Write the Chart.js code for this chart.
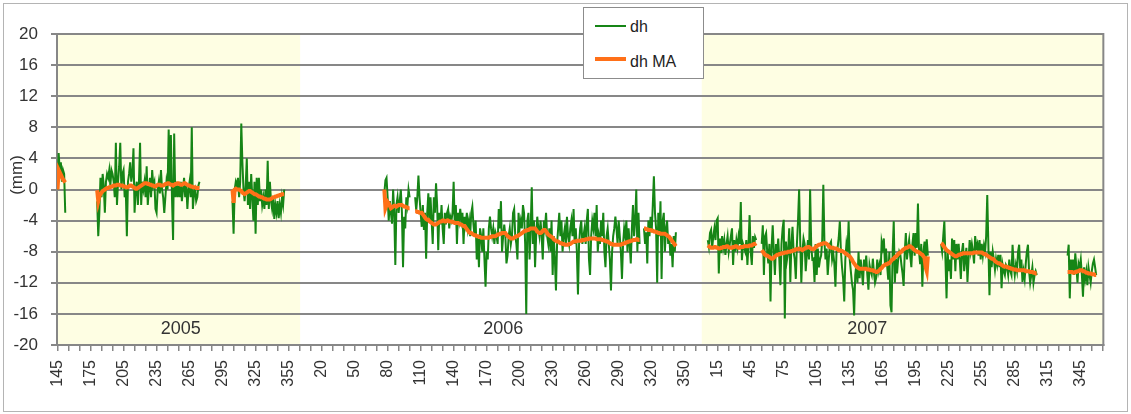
<!DOCTYPE html>
<html>
<head>
<meta charset="utf-8">
<script src="https://cdn.jsdelivr.net/npm/chart.js@4.4.0/dist/chart.umd.min.js"></script>
<style>
  body { margin: 0; background: #fff; }
  #wrap { position: relative; width: 1131px; height: 414px; }
  #frame { position: absolute; left: 3px; top: 3px; width: 1123px; height: 407px; border: 1px solid #b4b4b4; pointer-events: none; }
  #legend { position: absolute; left: 583px; top: 7px; width: 119px; height: 70px; border: 1px solid #8c8c8c; background: #fff;
            font: 16px "Liberation Sans", Arial, sans-serif; color: #222; }
  .key { position: absolute; left: 11px; width: 31px; }
  .lbl { position: absolute; left: 46px; line-height: 18px; }
</style>
</head>
<body>
<div id="wrap">
  <canvas id="chart" width="1131" height="414"></canvas>
  <div id="frame"></div>
  <div id="legend">
    <div class="key" style="top:17px;height:2px;background:#168516"></div>
    <div class="lbl" style="top:10px">dh</div>
    <div class="key" style="top:49px;height:4px;background:#ff7018"></div>
    <div class="lbl" style="top:45px">dh MA</div>
  </div>
</div>
<script>
// axis runs day by day from 2005 day 145 to the end of 2007
const firstYear = 2005;
const firstDay = 145;
const lastYear = 2007;
const yearLabels = ['2005', '2006', '2007'];
const yearLabelDay = [257, 185, 151];
const shadedYears = [2005, 2007];

// each data run: year and day of year of its first value
const segYear = [2005, 2005, 2005, 2006, 2006, 2006, 2007, 2007, 2007, 2007];
const segFirstDay = [145, 181, 304, 77, 105, 313, 6, 55, 218, 333];

const dh05a = [0, 4.7, 2.5, 3.5, 1, 2.5, 2, -3];
const dh05b = [
  -1.5, -6, -3, 1.5, -1, 2, 0.5, -3, 1, 2,
  1.5, 2.5, 0.5, 2.5, 2, 1, -1, 6, -2, 1,
  3, 6, 0, 2, 2.5, -1, 0, -6, 1, 2,
  3.5, 1, 2, 5.3, -3, 0, 1, -2, 1, 6,
  -2, 1, 0, 1, -1, 3, -2, 0, 1.5, -1,
  2.5, 0.5, 1, -2.5, -3, 0, 1, -0.5, 2.5, 0,
  -1, -3, -1, 1, 0, 7.7, 0.5, 7, -1, -6.5,
  7.2, -1, 1, -1, 0.5, -1, 1, -1.5, 0, 1.5,
  -1, 0.5, -2.5, 0, 1, -1, 8, -2.5, -0.5, 0,
  -1.5, -1, 0.5, 1
];
const dh05c = [
  -1.5, -5.7, 0, 1, 0.5, 1.5, -1, 1, 8.5, 3.5,
  0, -1.5, 0.5, 4, -2, 1, -2.5, 2, -1, -4,
  1, -5.7, 1.5, -2, 1.5, -1.5, 0, -2, -1, -2.5,
  0, -2, 3.7, -2.5, 1, -1.5, -2.5, -1, -3.8, -2,
  -3, -1.5, -3.7, -2, -3, -1, -2, 0
];
const dh06a = [-0.5, 1.2, 1.5, -1, -4, -1.5, -3, -4.4, 0, -3, -9.7, -2, -1, -3, -1.5, 0, -3, -10, -3.5, -5, -1, -2, 0, -1];
const dh06b = [
  -1, -2.7, -1, 1.8, -1, -3, -4.8, -2, -5.2, -3,
  -8.9, -3, -0.5, -4, -1, -4, -7, -1, -3, 0.8,
  -2, -7.8, -3, -4.5, -2, -5, -7, -3, -4.5, -3,
  -2.5, -5, -3.5, -4, -3, 1, -4.5, -2, -7, -3,
  -4, -2.5, -4, -3, -7, -3.5, -4.5, -3, -5, -4,
  -6, -3, -2.2, -4.5, -6, -4, -9, -6, -10, -5,
  -6, -8, -5, -9, -12.5, -8, -9, -5, -3.5, -5,
  -6, -5, -7, -5.5, -6, -7, -2.5, -5, -1.5, -8,
  -6, -4.5, -6, -9.5, -8.5, -6, -5, -7, -6, -3,
  -2.5, -6, -7, -9, -3, -5, -4, -5, -2, -3,
  -7, -16, -4, -3, -9, -5, 0.3, -7, -4, -10,
  -6, -3.5, -5, -6, -4, -6, -9, -4, -5, -3,
  -6, -7, -5, -8, -4, -11, -6, -9, -13, -7,
  -5, -3, -6, -4, -8, -6, -5, -7, -3.5, -6,
  -7, -5, -4, -6, -2.5, -7, -5, -8, -13.5, -7,
  -5, -4, -7, -6, -5, -7, -4, -2.5, -9, -11,
  -6, -4, -5, -3, -6, -2, -8, -6, -7, -4,
  -6, -3, -8, -10, -6, -5, -7, -9, -13, -8,
  -6, -5, -3.5, -5, -7, -4, -6, -8, -11.5, -7,
  -5, -6, -4, -8, -5, -7, -9.5, -5, -2, -6,
  -4, 0, -8, -3, -7
];
const dh06c = [-5, -7, -5.5, -9.5, -4, -6, -3.5, -5.5, -2, 1.7, -3, -5, -12, -3, -6, -1.5, -11.5, -4, -3, -8, -5, -4, -7, -6, -8.5, -7, -10, -6, -8, -5.5];
const dh07a = [
  -6.5, -7.4, -5.6, -5.2, -7.5, -6, -5, -6.5, -4, -3.7,
  -10.8, -6.3, -8.2, -6, -7.5, -6.5, -8.4, -7, -6, -8,
  -7, -6, -5, -9.7, -6.5, -8, -6.5, -7.5, -6, -7,
  -1.6, -9.1, -7, -7.5, -8, -6.5, -9.7, -7, -3.3, -8,
  -9.7, -6, -7.5, -6.1, -6.5
];
const dh07b = [
  -7, -4.6, -11, -6, -5.6, -8, -9.5, -7, -14.4, -7.4,
  -4.6, -8, -11, -7, -8.4, -6.3, -9, -12.3, -7, -5,
  -3.9, -16.6, -6.7, -9, -8, -5, -11.9, -7, -4.8, -8,
  -9, -11.5, -7, -4, 0, -6.7, -12, -8, -6.3, -7,
  -10.5, -8.4, -6.5, -9, 0, -7.2, -9, -8.9, -11.9, -7,
  -11, -7.6, -10, -9, -8.5, -6.5, 0.6, -6.7, -9, -7.6,
  -11, -8.9, -7, -6.7, -9, -8.2, -9.5, -12.5, -8, -7.5,
  -6.2, -4.1, -8, -10, -11.5, -14.4, -9, -7, -8, -4.1,
  -9, -10.5, -12, -12.9, -16.2, -11, -9.7, -12, -8, -11.4,
  -9, -10.5, -12.3, -9, -10.3, -8.5, -11, -12.9, -9.7, -10.5,
  -11, -8.9, -10.7, -12, -11.4, -9, -10.5, -9.7, -11, -6.7,
  -7.5, -6.3, -9.5, -7.6, -9.8, -11.6, -8, -14.9, -15.8, -8,
  -4.1, -12, -8.9, -10.8, -9, -8, -8.4, -9.7, -10.8, -12.4,
  -8, -5.6, -9, -7.5, -6.5, -8.5, -10, -7, -5.6, -8.5,
  -5.6, -7.5, -1.8, -8, -9.6, -7, -12.5, -8, -6.7, -9,
  -6.4, -8.5
];
const dh07c = [
  -7, -8, -6, -4.1, -9, -14, -8, -10.5, -9, -11.5,
  -6.3, -9, -6.5, -10.5, -7, -9, -7, -9, -11.5, -8,
  -6.9, -10.5, -9, -7.5, -11.9, -9, -6.5, -8, -7, -8,
  -9.5, -6, -7.5, -7, -8.5, -6.5, -9, -7, -8.5, -7.2,
  -8, -6, -0.7, -7.1, -13.6, -8, -10, -8, -9, -10.3,
  -8.9, -9.7, -8.4, -10, -8.4, -12.7, -9.7, -10.5, -11, -9.7,
  -10, -11, -9, -10.5, -11, -7.1, -9.7, -11, -9.7, -10.5,
  -8, -7.1, -10.5, -9, -11.9, -10.5, -11.5, -9.5, -8, -7.1,
  -10.5, -12, -11, -10, -12, -11, -10.5, -11
];
const dh07d = [-8.5, -7.1, -14, -9, -10.5, -9, -11, -8.2, -10, -12, -9.5, -10, -9, -11, -13.8, -10, -11.5, -10.5, -12.3, -10, -11, -12, -10.5, -9.5, -9, -10, -11];

const ma05a = [0, 2.5, 2.2, 1.9, 1.6, 1.3, 1.1, 0.9];
const ma05b = [
  -0.1, -1.5, -0.9, -0.6, -0.4, -0.2, -0.1, 0, 0.1, 0.2,
  0.2, 0.3, 0.3, 0.4, 0.4, 0.5, 0.5, 0.5, 0.6, 0.6,
  0.6, 0.5, 0.5, 0.5, 0.4, 0.4, 0.3, 0.3, 0.3, 0.4,
  0.5, 0.5, 0.4, 0.3, 0.2, 0.1, 0.1, 0.2, 0.3, 0.4,
  0.5, 0.6, 0.7, 0.8, 0.8, 0.8, 0.7, 0.7, 0.6, 0.6,
  0.5, 0.5, 0.4, 0.4, 0.5, 0.6, 0.6, 0.6, 0.5, 0.5,
  0.5, 0.6, 0.7, 0.7, 0.8, 0.8, 0.7, 0.6, 0.6, 0.5,
  0.6, 0.7, 0.7, 0.8, 0.8, 0.7, 0.6, 0.6, 0.7, 0.8,
  0.8, 0.7, 0.6, 0.5, 0.5, 0.4, 0.4, 0.3, 0.3, 0.3,
  0.2, 0.2, 0.2, 0.2
];
const ma05c = [
  0, -1.7, 0, 0.1, 0, 0, 0, -0.1, -0.2, -0.4,
  -0.5, -0.6, -0.5, -0.4, -0.3, -0.2, -0.2, -0.3, -0.4, -0.5,
  -0.6, -0.6, -0.7, -0.8, -0.9, -0.9, -1, -1, -1.1, -1.2,
  -1.2, -1.3, -1.3, -1.3, -1.3, -1.2, -1.1, -1, -1, -0.9,
  -0.9, -0.8, -0.8, -0.7, -0.7, -0.6, -0.6, -0.6
];
const ma06a = [0, -2.4, -2.0, -1.6, -1.8, -2.1, -2.4, -2.3, -2.2, -2.1, -2.1, -2.2, -2.1, -2.0, -2.0, -2.0, -2.0, -2.1, -2.2, -2.2, -2.3, -2.3, -2.4, -2.4];
const ma06b = [
  -2.8, -2.8, -2.9, -2.9, -3.0, -3.0, -3.0, -3.2, -3.4, -3.6,
  -3.8, -3.9, -3.9, -4.1, -4.2, -4.3, -4.4, -4.5, -4.5, -4.5,
  -4.4, -4.3, -4.2, -4.1, -4.1, -4.0, -4.0, -4.1, -4.1, -4.0,
  -4.0, -4.1, -4.1, -4.1, -4.2, -4.2, -4.3, -4.3, -4.3, -4.3,
  -4.4, -4.5, -4.5, -4.6, -4.7, -4.7, -4.9, -5.1, -5.3, -5.5,
  -5.6, -5.6, -5.7, -5.8, -5.9, -5.9, -6.0, -6.0, -6.1, -6.1,
  -6.2, -6.2, -6.2, -6.2, -6.2, -6.2, -6.2, -6.2, -6.1, -6.1,
  -6.0, -6.0, -6.0, -6.0, -5.9, -5.8, -5.8, -5.7, -5.7, -5.6,
  -5.6, -5.6, -5.6, -5.8, -6.0, -6.1, -6.2, -6.3, -6.3, -6.3,
  -6.2, -6.1, -6.0, -6.0, -5.9, -5.8, -5.7, -5.6, -5.5, -5.4,
  -5.3, -5.3, -5.2, -5.2, -5.1, -5.0, -5.0, -5.0, -5.0, -5.0,
  -5.2, -5.4, -5.5, -5.6, -5.6, -5.5, -5.3, -5.2, -5.2, -5.4,
  -5.6, -5.8, -5.9, -6.0, -6.1, -6.2, -6.4, -6.5, -6.6, -6.7,
  -6.7, -6.8, -6.9, -6.9, -7.0, -7.0, -7.1, -7.1, -7.1, -7.1,
  -7.0, -7.0, -6.9, -6.8, -6.7, -6.7, -6.7, -6.6, -6.6, -6.6,
  -6.6, -6.6, -6.5, -6.5, -6.5, -6.4, -6.4, -6.4, -6.3, -6.3,
  -6.3, -6.3, -6.3, -6.3, -6.3, -6.4, -6.4, -6.4, -6.4, -6.4,
  -6.5, -6.5, -6.6, -6.6, -6.7, -6.7, -6.8, -6.9, -7.0, -7.0,
  -7.1, -7.1, -7.1, -7.1, -7.1, -7.1, -7.1, -7.1, -7.0, -7.0,
  -6.9, -6.9, -6.8, -6.8, -6.7, -6.7, -6.6, -6.6, -6.5, -6.5,
  -6.5, -6.4, -6.4, -6.5, -6.5
];
const ma06c = [-5.0, -5.0, -5.1, -5.1, -5.2, -5.2, -5.2, -5.3, -5.3, -5.4, -5.4, -5.5, -5.5, -5.6, -5.6, -5.7, -5.7, -5.7, -5.7, -5.7, -5.8, -5.9, -6.0, -6.1, -6.3, -6.5, -6.7, -6.9, -7.1, -7.3];
const ma07a = [
  -7.2, -7.3, -7.4, -7.5, -7.5, -7.5, -7.4, -7.4, -7.5, -7.5,
  -7.6, -7.6, -7.5, -7.5, -7.4, -7.4, -7.4, -7.3, -7.3, -7.4,
  -7.5, -7.5, -7.5, -7.4, -7.4, -7.3, -7.3, -7.4, -7.5, -7.5,
  -7.4, -7.4, -7.4, -7.3, -7.3, -7.3, -7.3, -7.3, -7.2, -7.2,
  -7.2, -7.1, -7.0, -7.0, -6.9
];
const ma07b = [
  -7.8, -8.0, -8.2, -8.4, -8.5, -8.5, -8.6, -8.7, -8.8, -8.9,
  -8.9, -8.8, -8.6, -8.5, -8.4, -8.4, -8.3, -8.3, -8.2, -8.2,
  -8.2, -8.1, -8.1, -8.1, -8.0, -8.0, -8.0, -7.9, -7.9, -7.8,
  -7.8, -7.7, -7.7, -7.7, -7.6, -7.7, -7.7, -7.8, -7.7, -7.6,
  -7.5, -7.5, -7.4, -7.4, -7.5, -7.6, -7.7, -7.7, -7.6, -7.4,
  -7.3, -7.2, -7.1, -7.1, -7.0, -7.0, -6.9, -6.9, -6.9, -7.0,
  -7.1, -7.3, -7.4, -7.5, -7.5, -7.5, -7.6, -7.6, -7.6, -7.7,
  -7.8, -7.8, -7.9, -7.9, -8.0, -8.1, -8.2, -8.3, -8.4, -8.5,
  -8.6, -8.8, -9.0, -9.3, -9.5, -9.7, -9.9, -10.0, -10.1, -10.2,
  -10.2, -10.2, -10.2, -10.2, -10.2, -10.2, -10.3, -10.3, -10.3, -10.4,
  -10.4, -10.4, -10.5, -10.5, -10.6, -10.6, -10.5, -10.4, -10.2, -10.1,
  -9.9, -9.8, -9.7, -9.6, -9.6, -9.5, -9.5, -9.3, -9.1, -9.0,
  -8.9, -8.7, -8.6, -8.5, -8.3, -8.2, -8.1, -8.0, -7.8, -7.7,
  -7.6, -7.5, -7.5, -7.4, -7.3, -7.3, -7.4, -7.5, -7.7, -7.8,
  -7.9, -8.0, -8.0, -8.1, -8.2, -8.3, -8.4, -8.6, -8.8, -10.0,
  -10.5, -8.6
];
const ma07c = [
  -6.9, -7.0, -7.2, -7.4, -7.6, -7.8, -7.9, -8.0, -8.1, -8.2,
  -8.3, -8.4, -8.5, -8.6, -8.6, -8.5, -8.4, -8.4, -8.3, -8.3,
  -8.2, -8.2, -8.2, -8.2, -8.2, -8.2, -8.2, -8.2, -8.2, -8.2,
  -8.1, -8.1, -8.1, -8.1, -8.1, -8.1, -8.1, -8.1, -8.2, -8.3,
  -8.3, -8.4, -8.5, -8.6, -8.7, -8.8, -8.9, -8.9, -9.0, -9.2,
  -9.3, -9.4, -9.5, -9.5, -9.6, -9.7, -9.8, -9.9, -9.9, -9.9,
  -10.0, -10.0, -10.1, -10.1, -10.2, -10.2, -10.3, -10.3, -10.3, -10.4,
  -10.4, -10.4, -10.4, -10.4, -10.4, -10.4, -10.4, -10.5, -10.5, -10.5,
  -10.5, -10.6, -10.6, -10.6, -10.7, -10.7, -10.8, -10.8
];
const ma07d = [-10.6, -10.6, -10.6, -10.6, -10.6, -10.7, -10.7, -10.6, -10.6, -10.5, -10.5, -10.4, -10.4, -10.4, -10.5, -10.5, -10.6, -10.7, -10.7, -10.8, -10.8, -10.8, -10.9, -10.9, -10.9, -11.0, -11.0];

const dhSegs = [dh05a, dh05b, dh05c, dh06a, dh06b, dh06c, dh07a, dh07b, dh07c, dh07d];
const maSegs = [ma05a, ma05b, ma05c, ma06a, ma06b, ma06c, ma07a, ma07b, ma07c, ma07d];

function toIndex(year, day) {
  let idx = day - firstDay;
  for (let y = firstYear; y < year; y++) idx += 365;
  return idx;
}
function dayOfIndex(idx) {
  let day = idx + firstDay;
  while (day > 365) day -= 365;
  return day;
}
const lastIndex = toIndex(lastYear, 365);

// one point per day, with a null after each run so the line breaks
function buildPoints(segs) {
  const pts = [];
  segs.forEach((vals, s) => {
    const start = toIndex(segYear[s], segFirstDay[s]);
    vals.forEach((v, i) => pts.push({ x: start + i, y: v }));
    pts.push({ x: start + vals.length - 0.5, y: null });
  });
  return pts;
}

const font = '"Liberation Sans", Arial, sans-serif';
const gridGrey = '#878787';

const plotDecor = {
  id: 'plotDecor',
  beforeDraw(chart) {
    const { ctx, chartArea: a, scales: { x } } = chart;
    ctx.save();
    ctx.fillStyle = '#fefee3';
    shadedYears.forEach(yr => {
      const x0 = Math.max(a.left, x.getPixelForValue(toIndex(yr, 1) - 0.5));
      const x1 = Math.min(a.right, x.getPixelForValue(toIndex(yr, 365) + 0.5));
      ctx.fillRect(x0, a.top, x1 - x0, a.bottom - a.top);
    });
    ctx.restore();
  },
  beforeDatasetsDraw(chart) {
    const { ctx, chartArea: a, scales: { x, y } } = chart;
    ctx.save();
    ctx.strokeStyle = gridGrey;
    ctx.lineWidth = 2;
    ctx.strokeRect(a.left, a.top, a.right - a.left, a.bottom - a.top);
    ctx.fillStyle = '#333';
    ctx.textAlign = 'center';
    ctx.textBaseline = 'middle';
    ctx.font = '18px ' + font;
    yearLabels.forEach((t, i) => {
      ctx.fillText(t, x.getPixelForValue(toIndex(Number(t), yearLabelDay[i])), y.getPixelForValue(-18));
    });
    ctx.font = '17px ' + font;
    ctx.translate(17, 175);
    ctx.rotate(-Math.PI / 2);
    ctx.fillText('(mm)', 0, 0);
    ctx.restore();
  }
};

new Chart(document.getElementById('chart'), {
  type: 'line',
  data: {
    datasets: [
      { label: 'dh', data: buildPoints(dhSegs), borderColor: '#168516', borderWidth: 2, pointRadius: 0, order: 2 },
      { label: 'dh MA', data: buildPoints(maSegs), borderColor: '#ff7018', borderWidth: 4, pointRadius: 0, order: 1 }
    ]
  },
  options: {
    responsive: false,
    animation: false,
    events: [],
    spanGaps: false,
    layout: { padding: { top: 34, right: 24, bottom: 0, left: 0 } },
    plugins: { legend: { display: false }, tooltip: { enabled: false } },
    scales: {
      x: {
        type: 'linear',
        min: -0.5,
        max: lastIndex + 0.5,
        afterBuildTicks(scale) {
          const t = [];
          for (let v = 0; v <= lastIndex; v += 10) t.push({ value: v });
          scale.ticks = t;
        },
        afterFit(scale) { scale.height = 69; },
        ticks: {
          autoSkip: false, minRotation: 90, maxRotation: 90, padding: 9,
          color: '#333', font: { family: font, size: 16 },
          callback: v => (v % 30 === 0 ? String(dayOfIndex(v)) : '')
        },
        grid: { drawOnChartArea: false, color: gridGrey, tickLength: 6, lineWidth: 1.5 },
        border: { color: gridGrey, width: 2 }
      },
      y: {
        min: -20,
        max: 20,
        afterFit(scale) { scale.width = 57; },
        ticks: { stepSize: 4, padding: 13, color: '#333', font: { family: font, size: 17 } },
        grid: { color: gridGrey, lineWidth: 2, tickLength: 6 },
        border: { color: gridGrey, width: 2 }
      }
    }
  },
  plugins: [plotDecor]
});
</script>
</body>
</html>
